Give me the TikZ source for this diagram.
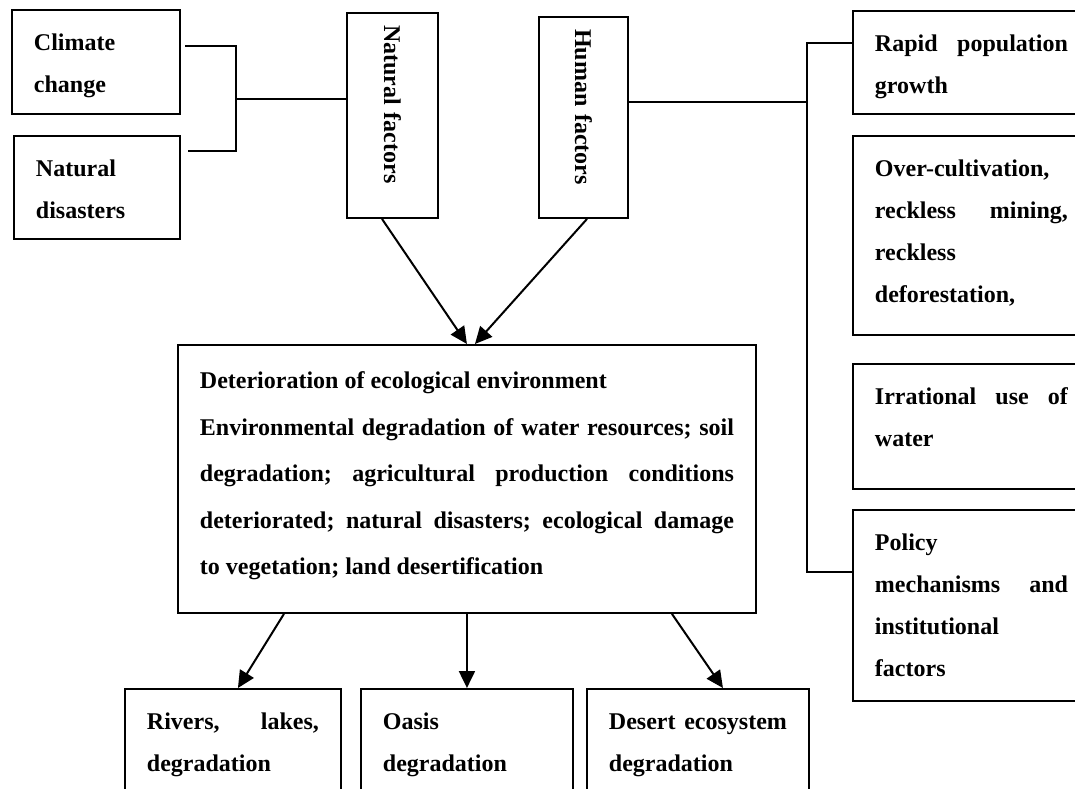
\documentclass[tikz,border=0pt]{standalone}
\usepackage{fontspec}
\setmainfont{Liberation Serif}
\usetikzlibrary{arrows.meta}
\frenchspacing
\newcommand{\jl}[1]{\makebox[\linewidth][s]{#1}}
\newcommand{\boxtxt}[4][21pt]{\parbox[t][#3][t]{#2}{\fontsize{12pt}{#1}\selectfont\bfseries\strut #4}}

\begin{document}
\begin{tikzpicture}[
    x=0.5pt,y=-0.5pt,
    box/.style={draw,line width=0.95pt,anchor=north west,inner xsep=11pt,inner ysep=5.5pt},
    vbox/.style={draw,line width=0.95pt,rotate=-90,inner xsep=6pt,align=left,font=\fontsize{12pt}{14pt}\selectfont\bfseries},
    link/.style={line width=0.75pt},
    trunk/.style={line width=1.4pt},
    arr/.style={line width=1pt,-{Triangle[length=8.5pt,width=8pt]}}
  ]
  \useasboundingbox (0,0) rectangle (1075,788);
  \clip (0,0) rectangle (1075,788);
  \node[box] (climate) at (11,9) {\boxtxt{62pt}{41pt}{Climate\\ change}};
  \node[box] (natdis) at (13,135) {\boxtxt{61pt}{40.5pt}{Natural\\ disasters}};
  \node[vbox,text width=90.5pt,minimum height=45.5pt] (natural) at (392.5,115.5) {Natural factors};
  \node[vbox,text width=88.5pt,minimum height=44.5pt] (human) at (583.5,117.5) {Human factors};
  \node[box] (rapid) at (852,10) {\boxtxt{96.5pt}{40.5pt}{\jl{Rapid population}\\ growth}};
  \node[box] (over) at (852,135) {\boxtxt{96.5pt}{88.5pt}{Over-cultivation,\\ \jl{reckless mining,}\\ reckless\\ deforestation,}};
  \node[box] (irrational) at (852,363) {\boxtxt{96.5pt}{51.5pt}{\jl{Irrational use of}\\ water}};
  \node[box] (policy) at (852,509) {\boxtxt{96.5pt}{84.5pt}{Policy\\ \jl{mechanisms and}\\ institutional\\ factors}};
  \node[box] (deterior) at (177,344) {\boxtxt[23.25pt]{267pt}{123pt}{Deterioration of ecological environment\\
    \jl{Environmental degradation of water resources; soil}\\
    \jl{degradation; agricultural production conditions}\\
    \jl{deteriorated; natural disasters; ecological damage}\\
    to vegetation; land desertification}};
  \node[box] (rivers) at (124,688) {\boxtxt{86pt}{49pt}{\jl{Rivers, lakes,}\\ degradation}};
  \node[box] (oasis) at (360,688) {\boxtxt{84pt}{49pt}{Oasis\\ degradation}};
  \node[box] (desert) at (586,688) {\boxtxt{89pt}{49pt}{\jl{Desert ecosystem}\\ degradation}};
  \coordinate (cc) at (185,46);
  \coordinate (nd) at (188,151);
  \coordinate (cj) at (236,99);
  \coordinate (hj) at (807,102);
  \coordinate (ht) at (807,43);
  \coordinate (hb) at (807,572);
  \draw[link] (cc) -| (cj) |- (nd);
  \draw[trunk] (cj) -- (natural.south |- cj);
  \draw[trunk] (human.north |- hj) -- (hj);
  \draw[link] (rapid.west |- ht) -- (ht) -- (hb) -- (policy.west |- hb);
  \draw[arr] ([xshift=-5.25pt]natural.east) -- (deterior.north);
  \draw[arr] ([xshift=1.75pt]human.east) -- ([xshift=4pt]deterior.north);
  \draw[arr] ([xshift=-91.5pt]deterior.south) -- ([xshift=2.5pt]rivers.north);
  \draw[arr] (deterior.south) -- (oasis.north);
  \draw[arr] ([xshift=102.5pt]deterior.south) -- ([xshift=12.5pt]desert.north);
\end{tikzpicture}
\end{document}
